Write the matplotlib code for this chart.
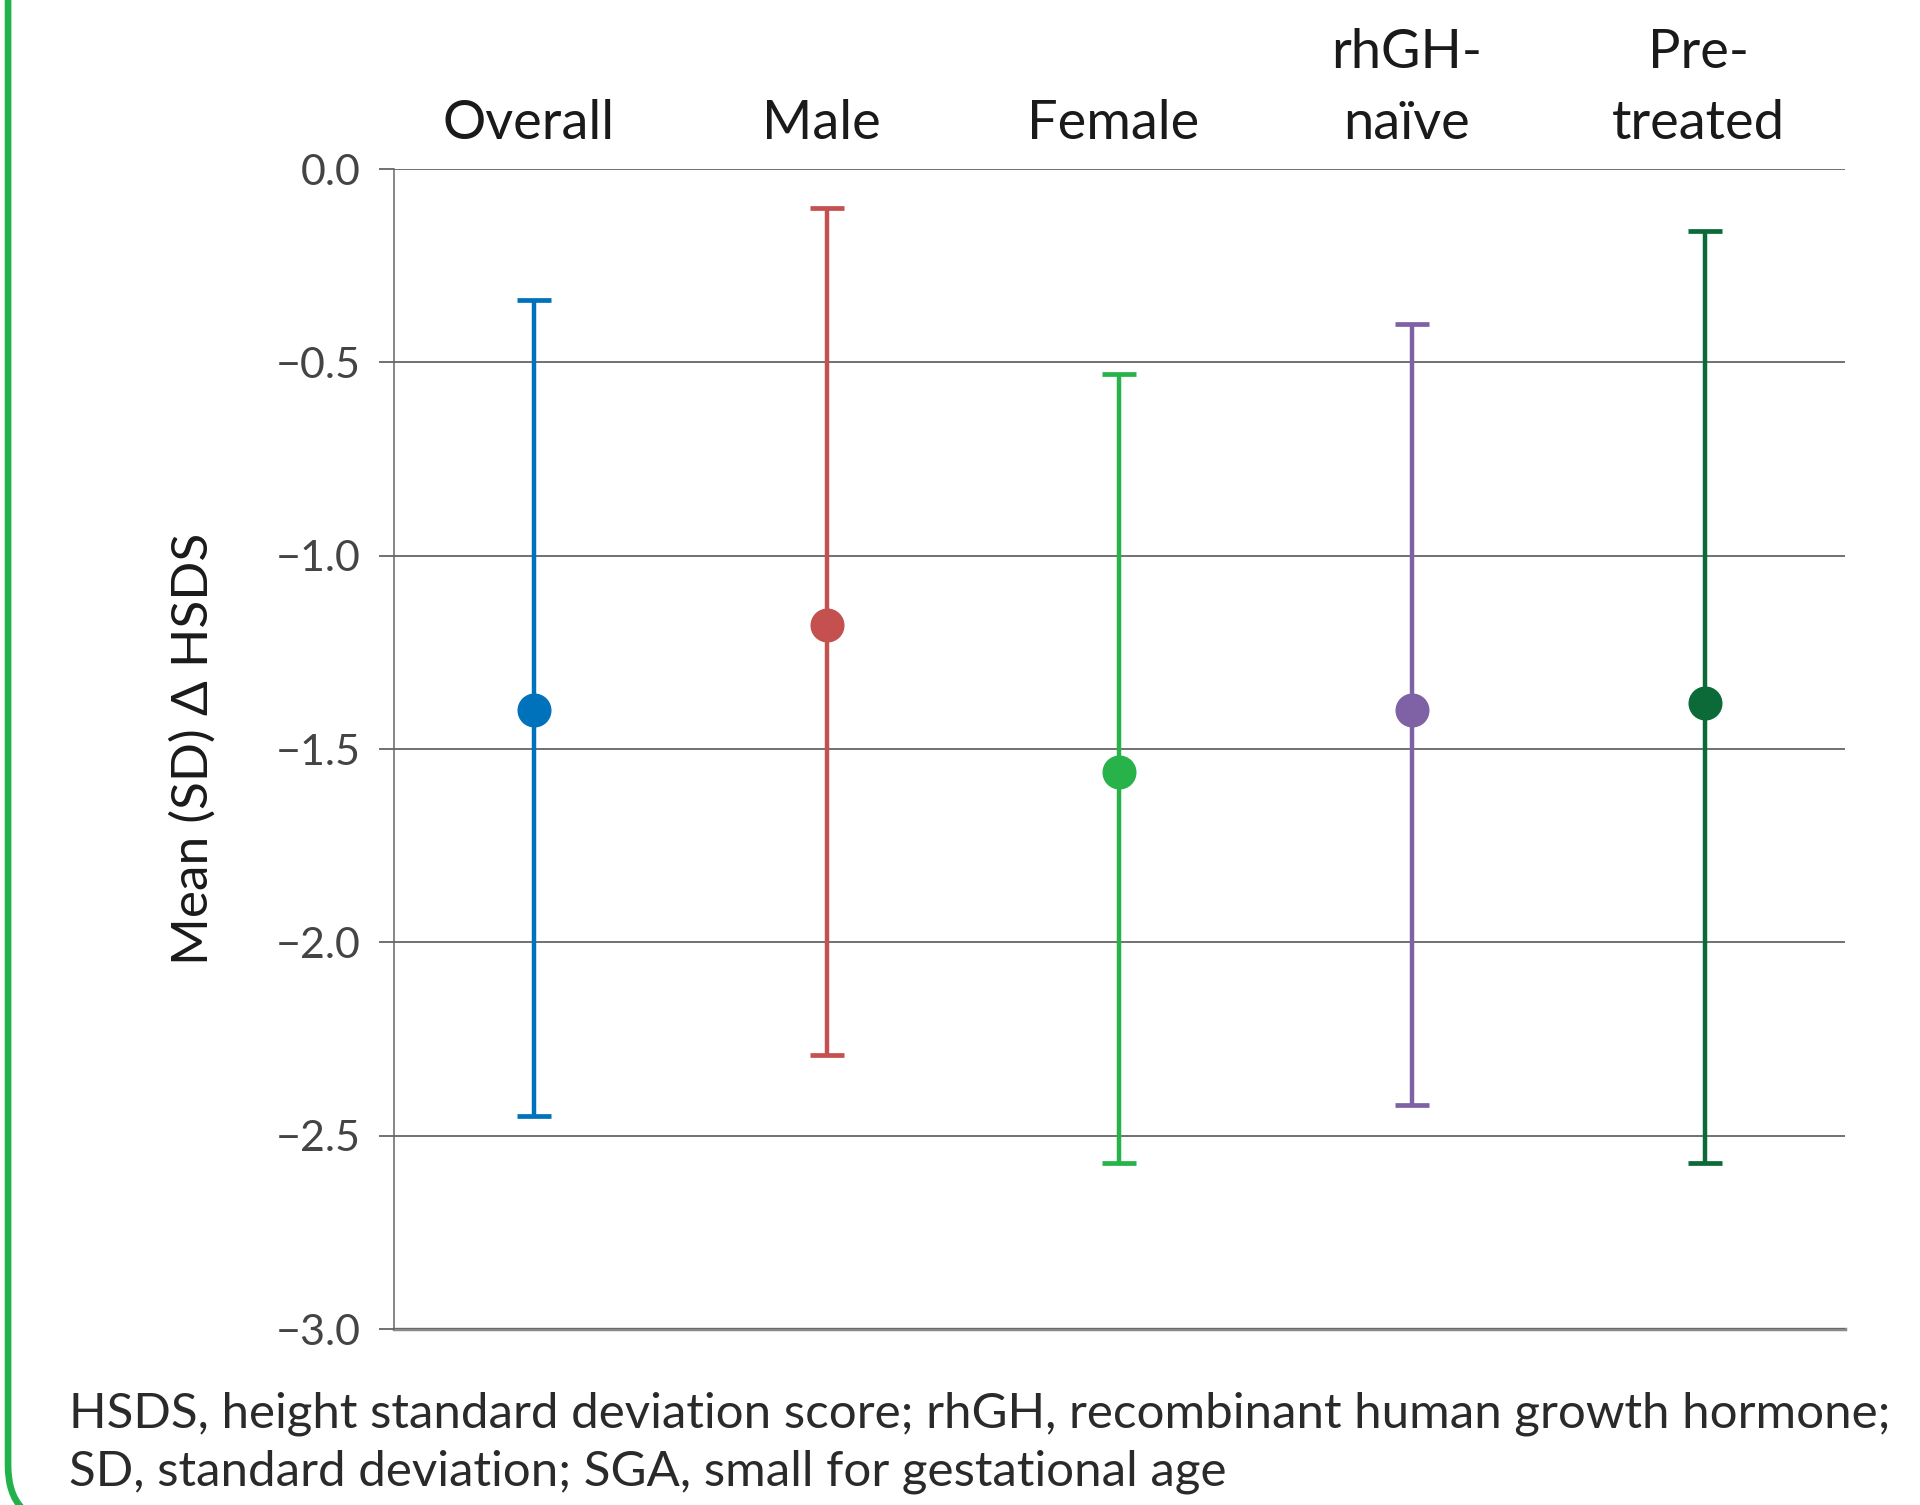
import matplotlib
matplotlib.use("Agg")
import matplotlib.pyplot as plt
import matplotlib.transforms as mtransforms
from matplotlib.patches import FancyBboxPatch
import numpy as np

# Data (mean and SD bounds of delta HSDS)
groups = ["Overall", "Male", "Female", "rhGH-\nnaïve", "Pre-\ntreated"]
means = [-1.40, -1.18, -1.56, -1.40, -1.38]
upper = [-0.34, -0.10, -0.53, -0.40, -0.16]
lower = [-2.45, -2.29, -2.57, -2.42, -2.57]
colors = ["#0072BC", "#C4504F", "#27B24A", "#7F62A6", "#0B6A38"]
yticks = [0.0, -0.5, -1.0, -1.5, -2.0, -2.5, -3.0]
footnote = ["HSDS, height standard deviation score; rhGH, recombinant human growth hormone;",
            "SD, standard deviation; SGA, small for gestational age"]

plt.rcParams['font.family'] = ['Lato', 'DejaVu Sans']

fig = plt.figure(figsize=(19.2, 15.05), dpi=100)
ax = fig.add_axes([0.2052, 0.1169, 0.7557, 0.7708])

x = np.arange(len(groups))
for i in range(len(groups)):
    err = [[means[i] - lower[i]], [upper[i] - means[i]]]
    ax.errorbar(x[i], means[i], yerr=err, fmt='o', color=colors[i],
                markersize=23.5, elinewidth=3.2, capsize=12, capthick=3.4, zorder=3)

ax.set_ylim(-3.0, 0.0)
ax.set_xlim(-0.48, 4.48)
ax.set_yticks(yticks)
ax.set_yticklabels([f"{v:.1f}".replace("-", "\u2212") for v in yticks])
ax.tick_params(axis='y', length=11, width=1.3, color='#666666', pad=13,
               labelsize=31, labelcolor='#444444')
ax.set_xticks([])
ax.grid(axis='y', color='#666666', linewidth=1.3, zorder=0)
for s in ['top', 'right', 'bottom']:
    ax.spines[s].set_visible(False)
ax.spines['left'].set_color('#666666')
ax.spines['left'].set_linewidth(1.1)
ax.axhline(-3.0, color='#8a8a8a', linewidth=2.5, zorder=1, clip_on=False)

ax.set_ylabel("Mean (SD) \u0394 HSDS", fontsize=37, color='#1a1a1a')
ax.yaxis.set_label_coords(-0.122, 0.5)

# category labels above the plot
trans = mtransforms.blended_transform_factory(ax.transData, ax.transAxes)
for i, g in enumerate(groups):
    ax.text(x[i] - 0.02, 1.018, g, transform=trans, ha='center', va='bottom',
            fontsize=39, color='#1a1a1a', linespacing=1.55)

# footnote
fig.text(0.036, 1 - 1427 / 1505, footnote[0], fontsize=35.5,
         color='#2a2a2a', va='baseline')
fig.text(0.036, 1 - 1485 / 1505, footnote[1], fontsize=35.5,
         color='#2a2a2a', va='baseline')

# green panel border (only the left edge and bottom-left corner show)
border = FancyBboxPatch((0.0042, -0.012), 1.2, 1.2, boxstyle="round,pad=0,rounding_size=0.03",
                        transform=fig.transFigure, facecolor='none', edgecolor='#22B24C',
                        linewidth=4.8, mutation_aspect=1920 / 1505)
fig.patches.append(border)

fig.savefig("out.png", dpi=100)
